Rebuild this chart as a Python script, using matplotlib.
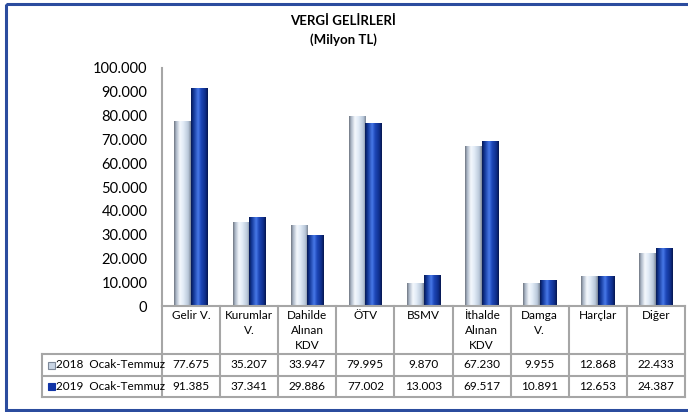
import numpy as np
import matplotlib
matplotlib.use('Agg')
import matplotlib.pyplot as plt
from matplotlib.colors import LinearSegmentedColormap
from matplotlib.patches import Rectangle

plt.rcParams['font.family'] = ['Lato', 'DejaVu Sans']

# data
categories = ['Gelir V.', 'Kurumlar\nV.', 'Dahilde\nAlınan\nKDV', 'ÖTV', 'BSMV',
              'İthalde\nAlınan\nKDV', 'Damga\nV.', 'Harçlar', 'Diğer']
vals_2018 = [77675, 35207, 33947, 79995, 9870, 67230, 9955, 12868, 22433]
vals_2019 = [91385, 37341, 29886, 77002, 13003, 69517, 10891, 12653, 24387]
series_names = ['2018  Ocak-Temmuz', '2019  Ocak-Temmuz']
yticks = np.arange(0, 100001, 10000)


def fmt(v):
    return f'{v:,}'.replace(',', '.')


W, H = 688, 412
fig = plt.figure(figsize=(W / 100, H / 100), dpi=100)

# pixel layout
x0, x1 = 162, 685
y_top, y_zero = 67.8, 306.3
y_row1, y_row2, y_bot = 354, 376, 397
x_leg = 42

ax = fig.add_axes([x0 / W, 1 - y_zero / H, (x1 - x0) / W, (y_zero - y_top) / H])
n = len(categories)
ax.set_xlim(-0.5, n - 0.5)
ax.set_ylim(0, 100000)
for s in ['top', 'right', 'bottom']:
    ax.spines[s].set_visible(False)
ax.spines['left'].set_color('#a6a6a6')
ax.spines['left'].set_linewidth(1.5)
ax.set_xticks([])
ax.set_yticks(yticks)
ax.set_yticklabels([fmt(v) for v in yticks], fontsize=10.5)
ax.tick_params(axis='y', length=0, pad=10.5)

light_cmap = LinearSegmentedColormap.from_list('light', [
    (0.0, '#6f7682'), (0.12, '#aab6c6'), (0.35, '#f4f8fd'),
    (0.55, '#e2ecf7'), (0.85, '#b9c8da'), (1.0, '#7d8898')])
dark_cmap = LinearSegmentedColormap.from_list('dark', [
    (0.0, '#071a55'), (0.15, '#123796'), (0.42, '#4878e8'),
    (0.6, '#1d47b8'), (0.85, '#0f2f8c'), (1.0, '#061650')])

x = np.arange(n)
bw = 0.285
grad = np.linspace(0, 1, 64).reshape(1, -1)
for offs, vals, cmap in [(-bw / 2, vals_2018, light_cmap), (bw / 2, vals_2019, dark_cmap)]:
    bars = ax.bar(x + offs, vals, width=bw, color='none', edgecolor='none')
    for b in bars:
        bx, by = b.get_x(), b.get_y()
        im = ax.imshow(grad, cmap=cmap, aspect='auto',
                       extent=[bx, bx + b.get_width(), by, by + b.get_height()],
                       interpolation='bilinear', zorder=2)
        im.set_clip_path(b)
ax.set_xlim(-0.5, n - 0.5)
ax.set_ylim(0, 100000)

# table drawn on an overlay axes in pixel units
tab = fig.add_axes([0, 0, 1, 1])
tab.set_xlim(0, W)
tab.set_ylim(H, 0)
tab.axis('off')
lc = '#a6a6a6'
lw = 1.5
colw = (x1 - x0) / n
tab.plot([x0, x1], [y_zero, y_zero], color=lc, lw=lw)
for yy in [y_row1, y_row2, y_bot]:
    tab.plot([x_leg, x1], [yy, yy], color=lc, lw=lw)
tab.plot([x_leg, x_leg], [y_row1, y_bot], color=lc, lw=lw)
for i in range(n + 1):
    tab.plot([x0 + i * colw] * 2, [y_zero, y_bot], color=lc, lw=lw)

for i, cat in enumerate(categories):
    cx = x0 + (i + 0.5) * colw
    tab.text(cx, y_zero + 4, cat, ha='center', va='top', fontsize=8.5,
             linespacing=1.45)
    tab.text(cx, (y_row1 + y_row2) / 2, fmt(vals_2018[i]), ha='center', va='center', fontsize=8.5)
    tab.text(cx, (y_row2 + y_bot) / 2, fmt(vals_2019[i]), ha='center', va='center', fontsize=8.5)

for (ya, yb), name, fc, ec in [((y_row1, y_row2), series_names[0], '#c9d5e4', '#7d8898'),
                               ((y_row2, y_bot), series_names[1], '#1034a6', '#1034a6')]:
    yc = (ya + yb) / 2
    tab.add_patch(Rectangle((48, yc - 3.5), 7, 7, facecolor=fc, edgecolor=ec, lw=0.8))
    tab.text(56, yc, name, ha='left', va='center', fontsize=8.5)

# title
tab.text(343, 21, 'VERGİ GELİRLERİ', ha='center', va='center', fontsize=9.5, fontweight='bold')
tab.text(343, 40, '(Milyon TL)', ha='center', va='center', fontsize=9.5, fontweight='bold')

# outer border
tab.add_patch(Rectangle((6, 3.5), W + 10, 406, facecolor='none', edgecolor='#2b4c9e', lw=2.2))

fig.savefig('out.png', dpi=100)
